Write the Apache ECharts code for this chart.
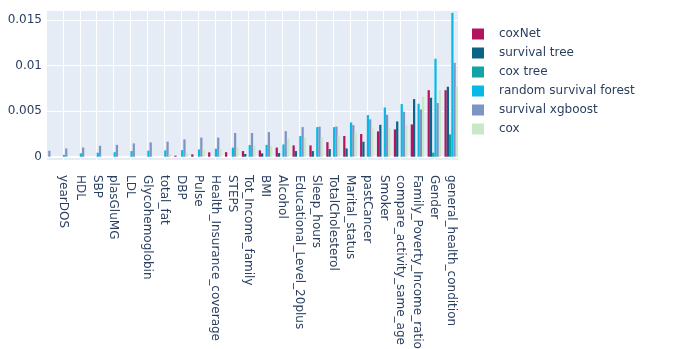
<!DOCTYPE html>
<html>
<head>
<meta charset="utf-8">
<script src="https://cdn.jsdelivr.net/npm/echarts@6/dist/echarts.min.js"></script>
<style>
  html, body { margin: 0; padding: 0; background: #fff; }
  #chart { width: 700px; height: 349px; }
</style>
</head>
<body>
<div id="chart"></div>
<script>
// first slot is an unlabeled feature, half cut off at the left edge
const categories = ['', 'yearDOS', 'HDL', 'SBP', 'plasGluMG', 'LDL', 'Glycohemoglobin', 'total_fat',
  'DBP', 'Pulse', 'Health_Insurance_coverage', 'STEPS', 'Tot_Income_family', 'BMI', 'Alcohol',
  'Educational_Level_20plus', 'Sleep_hours', 'TotalCholesterol', 'Marital_status', 'pastCancer',
  'Smoker', 'compare_activity_same_age', 'Family_Poverty_Income_ratio', 'Gender', 'general_health_condition'];

const coxNet = [0, 0, 0, 0, 0, 0, 0, 0, 0.00012, 0.00026, 0.00048, 0.0005, 0.00062, 0.0007, 0.001,
  0.00124, 0.00124, 0.0016, 0.00227, 0.00249, 0.00278, 0.003, 0.00354, 0.0073, 0.0073];
const survivalTree = [0, 0, 0, 0, 0, 0, 0, 0, 0, 0, 0, 0, 0.0003, 0.00037, 0.0004,
  0.00062, 0.00062, 0.00084, 0.00091, 0.00164, 0.0035, 0.00387, 0.00632, 0.00647, 0.00768];
const coxTree = [0, 0, 0, 0, 0, 0, 0, 0, 0, 0, 0, 0, 0, 0, 0,
  0, 0, 0, 0, 0, 0, 0, 0, 0.00044, 0.00245];
const randomSurvivalForest = [0, 0.0002, 0.00037, 0.00044, 0.0005, 0.00062, 0.00066, 0.0007, 0.00073, 0.0008,
  0.00088, 0.001, 0.00128, 0.0013, 0.00135, 0.00227, 0.00325, 0.00325, 0.00376, 0.00457,
  0.0054, 0.00578, 0.00581, 0.01075, 0.0158];
const survivalXgboost = [0.00066, 0.0009, 0.001, 0.0012, 0.0013, 0.00146, 0.00157, 0.00165, 0.0019, 0.0021,
  0.0021, 0.0026, 0.0026, 0.0027, 0.0028, 0.00325, 0.0033, 0.0033, 0.00347, 0.0041,
  0.0046, 0.00493, 0.00519, 0.00589, 0.0103];
const cox = [0.00003, 0, 0, 0, 0, 0, 0, 0.0003, 0.00044, 0.0008, 0.00084, 0.001, 0.0012, 0.00117, 0.002,
  0.0021, 0.0021, 0.00234, 0.00263, 0.00307, 0.00318, 0.0035, 0.00658, 0.0073, 0.00768];

const seriesNames = ['coxNet', 'survival tree', 'cox tree', 'random survival forest', 'survival xgboost', 'cox'];
const seriesValues = [coxNet, survivalTree, coxTree, randomSurvivalForest, survivalXgboost, cox];
const colors = ['#b3145e', '#0b6387', '#12a3a6', '#08b8e6', '#7d95c4', '#c8e8c8'];

const textColor = '#2a3f5f';
const font = '"DejaVu Sans", Verdana, sans-serif';

const chart = echarts.init(document.getElementById('chart'), null, { renderer: 'canvas' });

chart.setOption({
  animation: false,
  color: colors,
  textStyle: { fontFamily: font },
  grid: {
    show: true, backgroundColor: '#e5ecf6', borderWidth: 0,
    left: 46, right: 242, top: 10, bottom: 189,
    outerBoundsMode: 'none', containLabel: false
  },
  legend: {
    orient: 'vertical',
    left: 472,
    top: 27,
    padding: 0,
    itemWidth: 12,
    itemHeight: 11,
    itemGap: 5,
    icon: 'rect',
    align: 'left',
    textStyle: { color: textColor, fontSize: 12, fontFamily: font, lineHeight: 14, padding: [0, 0, 0, 10] },
    data: seriesNames
  },
  xAxis: {
    type: 'value',
    min: 0,
    max: 24.4,
    interval: 1,
    axisLine: { show: true, onZero: true, lineStyle: { color: '#ffffff', width: 2 } },
    axisTick: { show: false },
    splitLine: { show: true, lineStyle: { color: '#ffffff', width: 1 } },
    axisLabel: {
      rotate: -90,
      margin: 15,
      color: textColor,
      fontSize: 12,
      fontFamily: font,
      formatter: v => categories[v] || ''
    }
  },
  yAxis: {
    type: 'value',
    min: -0.00036,
    max: 0.0161,
    splitNumber: 3,
    axisLine: { show: false },
    axisTick: { show: false },
    splitLine: { lineStyle: { color: '#ffffff', width: 1 } },
    axisLabel: {
      color: textColor,
      fontSize: 12,
      fontFamily: font,
      margin: 4,
      showMinLabel: false,
      showMaxLabel: false
    }
  },
  series: seriesNames.map((name, i) => ({
    name: name,
    type: 'bar',
    barGap: '0%',
    barCategoryGap: '20%',
    clip: true,
    data: seriesValues[i].map((v, k) => [k, v]),
    itemStyle: { color: colors[i] }
  }))
});
</script>
</body>
</html>
